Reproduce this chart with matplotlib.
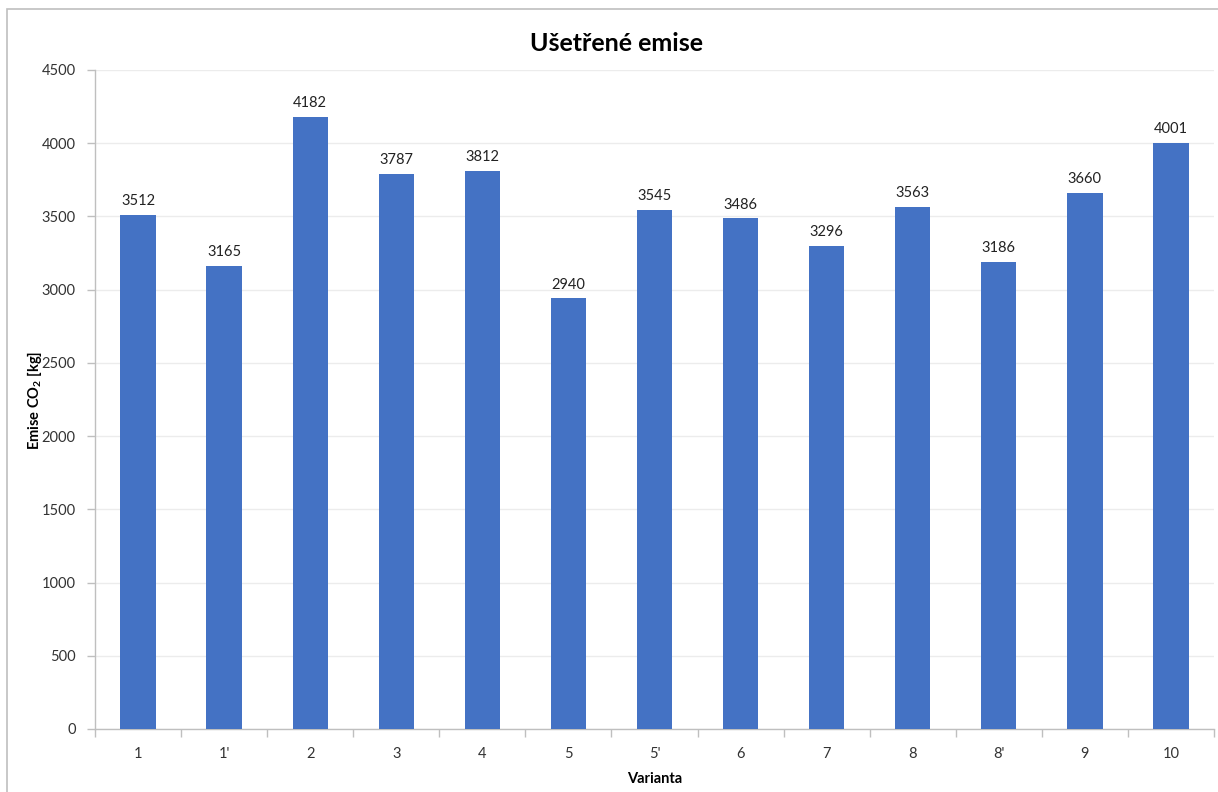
import numpy as np
import matplotlib
matplotlib.use("Agg")
import matplotlib.pyplot as plt
from matplotlib.patches import Rectangle

varianty = ["1", "1'", "2", "3", "4", "5", "5'", "6", "7", "8", "8'", "9", "10"]
emise = [3512, 3165, 4182, 3787, 3812, 2940, 3545, 3486, 3296, 3563, 3186, 3660, 4001]
y_ticks = [0, 500, 1000, 1500, 2000, 2500, 3000, 3500, 4000, 4500]

plt.rcParams.update({
    "font.family": ["Lato", "DejaVu Sans"],
    "mathtext.fontset": "custom",
    "mathtext.rm": "Lato",
    "mathtext.bf": "Lato:bold",
})
BLUE = "#4472C4"
GRID = "#ececec"
AXC = "#bfbfbf"

fig = plt.figure(figsize=(12.18, 7.92), dpi=100)
ax = fig.add_axes([95 / 1218, 1 - 729 / 792, (1214 - 95) / 1218, (729 - 70) / 792])

# outer chart border (cut off on the right/bottom like the screenshot)
fig.patches.append(Rectangle((7 / 1218, -0.1), 1.2, 1 - 9 / 792 + 0.1,
                             transform=fig.transFigure, fill=False,
                             edgecolor=AXC, lw=1.2))

x = np.arange(len(varianty))
bars = ax.bar(x, emise, width=0.41, color=BLUE, zorder=3)
for b, v in zip(bars, emise):
    ax.annotate(f"{v}", (b.get_x() + b.get_width() / 2, v), xytext=(0, 5),
                textcoords="offset points", ha="center", va="bottom",
                fontsize=10.5, color="#222222")

ax.set_xlim(-0.5, len(varianty) - 0.5)
ax.set_ylim(0, 4500)
ax.set_yticks(y_ticks)
ax.yaxis.grid(True, color=GRID, lw=1, zorder=0)
ax.set_axisbelow(True)

ax.set_xticks(x)
ax.set_xticklabels(varianty)
ax.set_xticks(np.arange(len(varianty) + 1) - 0.5, minor=True)
ax.tick_params(axis="x", which="major", length=0, pad=13, labelsize=10.5,
               labelcolor="#333333")
ax.tick_params(axis="x", which="minor", length=6, color=AXC, width=1)
ax.tick_params(axis="y", length=6, color=AXC, width=1, pad=8, labelsize=10.5,
               labelcolor="#333333")

for s in ["top", "right"]:
    ax.spines[s].set_visible(False)
for s in ["left", "bottom"]:
    ax.spines[s].set_color(AXC)
    ax.spines[s].set_linewidth(1)

ax.set_title("Ušetřené emise", fontsize=18, fontweight="bold", pad=14,
             x=(617 - 95) / (1214 - 95))
ax.set_xlabel("Varianta", fontsize=10.5, fontweight="bold", labelpad=8)
fig.text(35 / 1218, 1 - 400 / 792, r"Emise CO$_\mathbf{2}$ [kg]", rotation=90,
         ha="center", va="center", fontsize=10.5, fontweight="bold")

fig.savefig("out.png", dpi=100)
